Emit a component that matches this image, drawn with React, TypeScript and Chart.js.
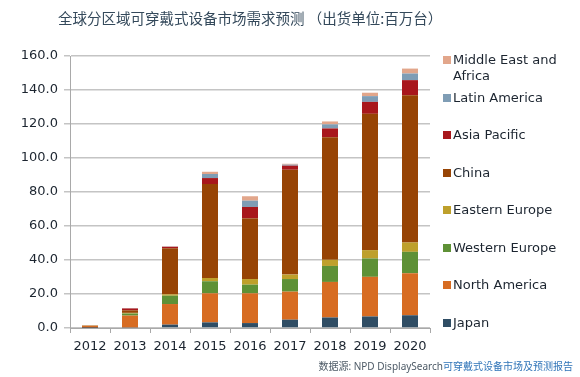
import React, { useEffect, useRef } from "react";
import { Chart, registerables } from "chart.js";

Chart.register(...registerables);

const years = ["2012", "2013", "2014", "2015", "2016", "2017", "2018", "2019", "2020"];
const japan = [0.1, 0.3, 2.0, 3.3, 2.9, 4.9, 6.2, 6.8, 7.5];
const northAmerica = [1.3, 7.0, 12.1, 17.1, 17.5, 16.5, 20.9, 23.3, 24.7];
const westernEurope = [0.1, 1.2, 4.9, 7.1, 5.1, 7.4, 9.4, 10.8, 12.6];
const easternEurope = [0.0, 0.4, 0.8, 1.9, 3.3, 2.6, 3.6, 4.9, 5.5];
const china = [0.1, 1.5, 27.1, 55.3, 35.7, 61.7, 72.1, 80.2, 86.6];
const asiaPacific = [0.0, 1.1, 0.9, 3.5, 6.7, 2.4, 5.2, 7.0, 8.9];
const latinAmerica = [0.0, 0.1, 0.1, 2.4, 3.7, 0.6, 2.4, 3.4, 3.9];
const middleEastAfrica = [0.0, 0.1, 0.1, 1.3, 2.6, 0.5, 1.7, 2.0, 2.9];

const seriesNames = [
  "Japan",
  "North America",
  "Western Europe",
  "Eastern Europe",
  "China",
  "Asia Pacific",
  "Latin America",
  "Middle East and Africa",
];
const seriesValues = [japan, northAmerica, westernEurope, easternEurope, china, asiaPacific, latinAmerica, middleEastAfrica];
const seriesColors = ["#2f4d64", "#d76c22", "#5e9136", "#bea02b", "#974405", "#a8171c", "#7f9db5", "#e2a68b"];

const titleText = "全球分区域可穿戴式设备市场需求预测 （出货单位:百万台）";
const sourcePrefix = "数据源: NPD DisplaySearch";
const sourceSuffix = "可穿戴式设备市场及预测报告";

export default function App() {
  const canvasRef = useRef<HTMLCanvasElement>(null);

  useEffect(() => {
    if (!canvasRef.current) return;
    const chart = new Chart(canvasRef.current, {
      type: "bar",
      data: {
        labels: years,
        datasets: seriesNames.map((name, i) => ({
          label: name,
          data: seriesValues[i],
          backgroundColor: seriesColors[i],
          borderWidth: 0,
          barPercentage: 0.4,
          categoryPercentage: 1.0,
        })),
      },
      options: {
        animation: false,
        responsive: false,
        maintainAspectRatio: false,
        layout: { padding: { left: 8, right: 150, top: 56, bottom: 19 } },
        plugins: {
          legend: { display: false },
          title: { display: false },
          tooltip: { enabled: false },
        },
        scales: {
          x: {
            stacked: true,
            offset: true,
            afterFit: (s: any) => {
              s.height = 30;
            },
            grid: {
              offset: true,
              drawOnChartArea: false,
              drawTicks: true,
              tickLength: 5,
              color: "#a9a9a9",
            },
            border: { display: true, color: "#a9a9a9", width: 1 },
            ticks: {
              color: "#1c2530",
              font: { family: "DejaVu Sans", size: 13 },
              padding: 6,
              maxRotation: 0,
            },
          },
          y: {
            stacked: true,
            min: 0,
            max: 160,
            afterFit: (s: any) => {
              s.width = 62;
            },
            grid: {
              color: "#c4c4c4",
              drawTicks: true,
              tickLength: 6,
              lineWidth: 1.5,
            },
            border: { display: true, color: "#a9a9a9", width: 1 },
            ticks: {
              stepSize: 20,
              color: "#1c2530",
              font: { family: "DejaVu Sans", size: 13 },
              padding: 6,
              callback: (v: any) => Number(v).toFixed(1),
            },
          },
        },
      },
    });
    return () => chart.destroy();
  }, []);

  const legendOrder = [...seriesNames.keys()].reverse();

  return (
    <div style={{ position: "absolute", left: 0, top: 0, width: 580, height: 377, background: "#fff", overflow: "hidden" }}>
      <canvas ref={canvasRef} width={580} height={377} style={{ position: "absolute", left: 0, top: 0, width: 580, height: 377 }} />
      <div
        style={{
          position: "absolute",
          left: 58,
          top: 8,
          fontFamily: "'Noto Sans CJK SC', sans-serif",
          fontSize: 14.5,
          lineHeight: "20px",
          color: "#34495b",
          whiteSpace: "nowrap",
        }}
      >
        {titleText}
      </div>
      <div style={{ position: "absolute", left: 443, top: 52 }}>
        {legendOrder.map((i) => (
          <div key={i} style={{ height: 37.5, display: "flex", alignItems: "flex-start" }}>
            <div style={{ width: 8, height: 8, background: seriesColors[i], marginTop: 4, marginRight: 2, flexShrink: 0 }} />
            <div
              style={{
                fontFamily: "'DejaVu Sans', sans-serif",
                fontSize: 13,
                lineHeight: "16px",
                color: "#1c2530",
                width: 125,
              }}
            >
              {seriesNames[i] === "Middle East and Africa" ? (
                <>
                  Middle East and
                  <br />
                  Africa
                </>
              ) : (
                seriesNames[i]
              )}
            </div>
          </div>
        ))}
      </div>
      <div
        style={{
          position: "absolute",
          right: 7,
          top: 359,
          fontFamily: "'Noto Sans', 'Noto Sans CJK SC', sans-serif",
          fontSize: 10,
          lineHeight: "14px",
          whiteSpace: "nowrap",
        }}
      >
        <span style={{ color: "#4d5a66" }}>{sourcePrefix}</span>
        <span style={{ color: "#2f74b8" }}>{sourceSuffix}</span>
      </div>
    </div>
  );
}
